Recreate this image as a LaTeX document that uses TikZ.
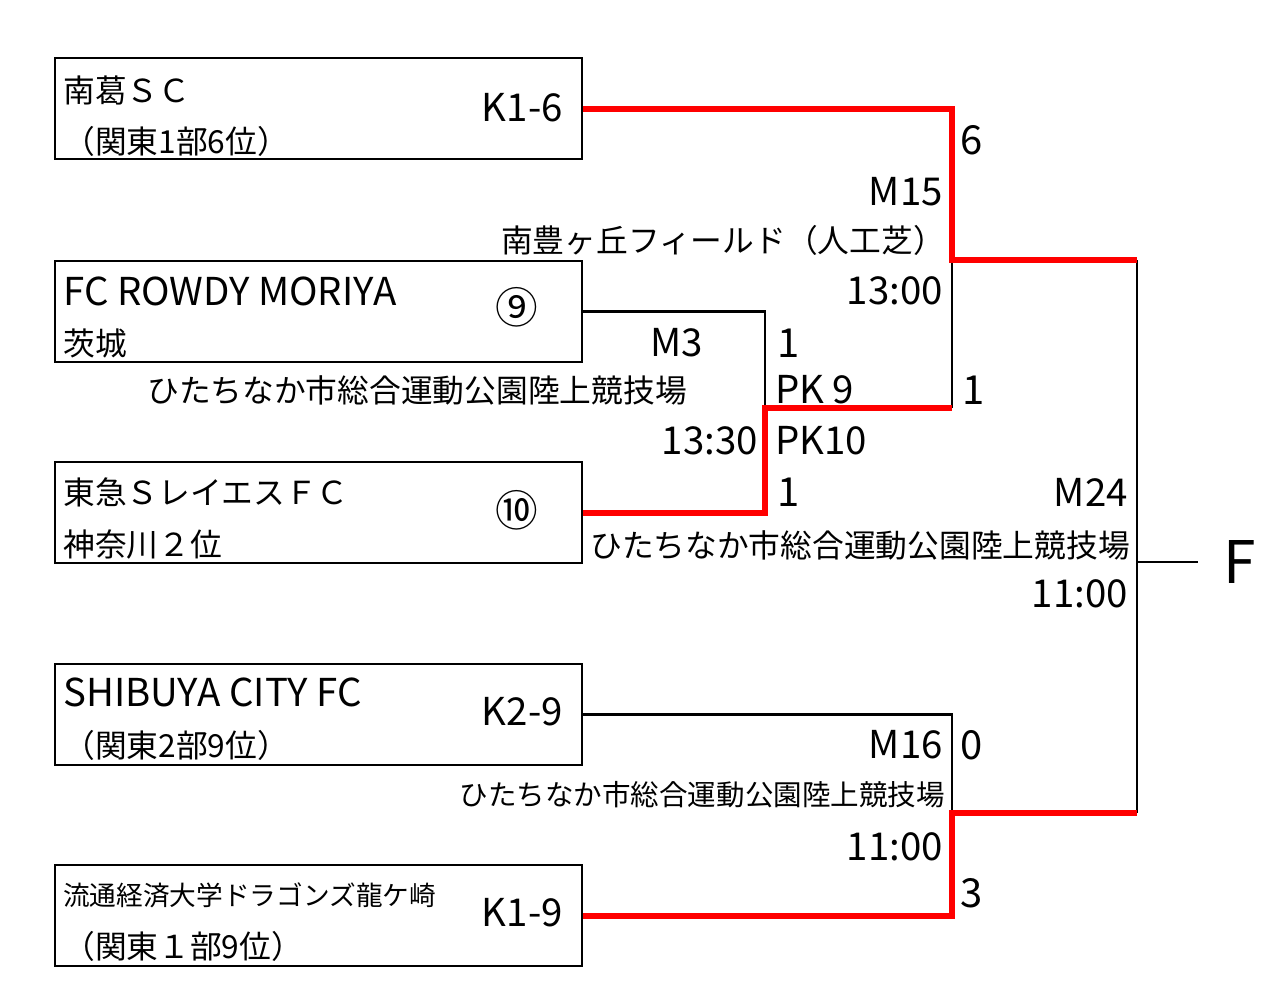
\documentclass[tikz,border=0pt]{standalone}
\usepackage{fontspec}
\setmainfont{Noto Sans CJK JP}
\begin{document}
\begin{tikzpicture}[x=0.75pt,y=-0.75pt,
  team/.style={draw=black,line width=2.2pt,minimum width=395.25pt,minimum height=75.75pt,inner sep=0pt},
  jp/.style={inner sep=0pt,font=\fontsize{23.8pt}{26pt}\selectfont},
  jps/.style={inner sep=0pt,font=\fontsize{21.4pt}{24pt}\selectfont},
  jpt/.style={inner sep=0pt,font=\fontsize{20pt}{23pt}\selectfont},
  lat/.style={inner sep=0pt,font=\fontsize{28.8pt}{31pt}\selectfont},
  score/.style={inner sep=0pt,font=\fontsize{30pt}{32pt}\selectfont},
  circ/.style={inner sep=0pt,font=\fontsize{32pt}{34pt}\selectfont},
  thin/.style={draw=black,line width=1.6pt},
  win/.style={draw=red,line width=4.5pt,line join=miter}]
\useasboundingbox (0,0) rectangle (1280,986);
% team boxes
\node[team] (t1) at (318.5,108.5) {};
\node[team] (t2) at (318.5,311.5) {};
\node[team] (t3) at (318.5,512.5) {};
\node[team] (t4) at (318.5,714.5) {};
\node[team] (t5) at (318.5,915.5) {};
% junctions
\coordinate (m15) at (952,260);
\coordinate (m3) at (765,408);
\coordinate (m16) at (952,813);
\coordinate (m24t) at (1137,260);
\coordinate (m24b) at (1137,813);
\coordinate (m24) at (1137,562);
\node[inner sep=0pt,font=\fontsize{44pt}{48pt}\selectfont] (fin) at (1240,562) {F};
\coordinate (fend) at (1198,562);
% box texts
\node[jp,anchor=west] (n1a) at (63,90) {南葛ＳＣ};
\node[jp,anchor=west] (n1b) at (63,141) {（関東1部6位）};
\node[lat,anchor=east] (n1c) at (563,108) {K1-6};
\node[lat,anchor=west] (n2a) at (63,291) {FC ROWDY MORIYA};
\node[jp,anchor=west] (n2b) at (63,343) {茨城};
\node[circ,anchor=center] (n2c) at (517,307) {⑨};
\node[jp,anchor=west] (n3a) at (63,492) {東急ＳレイエスＦＣ};
\node[jp,anchor=west] (n3b) at (63,545) {神奈川２位};
\node[circ,anchor=center] (n3c) at (517,510) {⑩};
\node[lat,anchor=west] (n4a) at (63,692) {SHIBUYA CITY FC};
\node[jp,anchor=west] (n4b) at (63,745) {（関東2部9位）};
\node[lat,anchor=east] (n4c) at (563,712) {K2-9};
\node[jpt,anchor=west] (n5a) at (63,895) {流通経済大学ドラゴンズ龍ケ崎};
\node[jp,anchor=west] (n5b) at (63,946) {（関東１部9位）};
\node[lat,anchor=east] (n5c) at (563,913) {K1-9};
% match labels
\node[score,anchor=west] (s15a) at (960,140) {6};
\node[lat,anchor=east] (l15) at (943,192) {M15};
\node[jp,anchor=east] (v15) at (945,240) {南豊ヶ丘フィールド（人工芝）};
\node[lat,anchor=east] (h15) at (943,291) {13:00};
\node[score,anchor=west] (s15b) at (962,390) {1};
\node[lat,anchor=east] (l3) at (703,343) {M3};
\node[score,anchor=west] (s3a) at (777,343) {1};
\node[lat,anchor=west] (p3a) at (775,390) {PK 9};
\node[jp,anchor=east] (v3) at (687,390) {ひたちなか市総合運動公園陸上競技場};
\node[lat,anchor=east] (h3) at (758,441) {13:30};
\node[lat,anchor=west] (p3b) at (775,441) {PK10};
\node[score,anchor=west] (s3b) at (777,492) {1};
\node[lat,anchor=east] (l24) at (1128,492) {M24};
\node[jp,anchor=east] (v24) at (1130,545) {ひたちなか市総合運動公園陸上競技場};
\node[lat,anchor=east] (h24) at (1128,594) {11:00};
\node[lat,anchor=east] (l16) at (943,745) {M16};
\node[score,anchor=west] (s16a) at (960,745) {0};
\node[jps,anchor=east] (v16) at (945,795) {ひたちなか市総合運動公園陸上競技場};
\node[lat,anchor=east] (h16) at (943,847) {11:00};
\node[score,anchor=west] (s16b) at (960,893) {3};
% black connectors
\draw[thin] (t2.east) -| (m3);
\draw[thin] (m3 -| m15) -- (m15);
\draw[thin] (t4.east) -| (m16);
\draw[thin] (m24t) -- (m24b);
\draw[thin] (m24) -- (fend);
% winners
\draw[win] (t1.east) -| (m15) -- (m24t);
\draw[win] (t3.east) -| (m3) -- (m3 -| m15);
\draw[win] (t5.east) -| (m16) -- (m24b);
\end{tikzpicture}
\end{document}
